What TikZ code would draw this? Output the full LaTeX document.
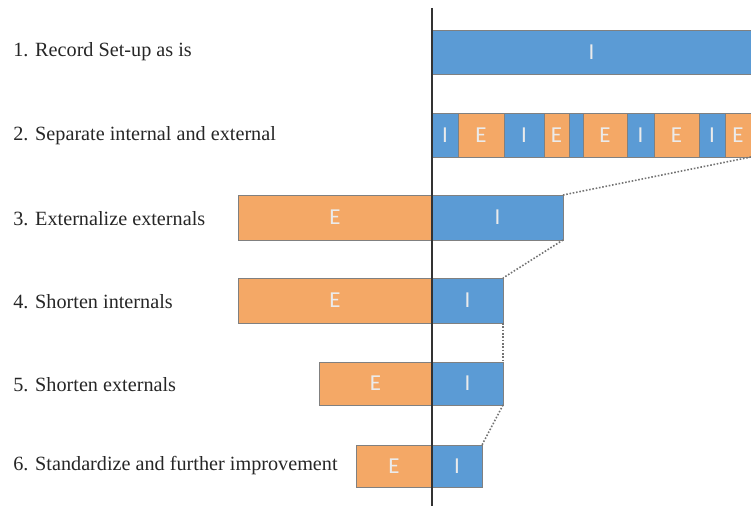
\documentclass[tikz,border=0pt]{standalone}
\usepackage{fontspec}
\setmainfont{Liberation Serif}
\newfontfamily\barfont{Carlito}
\usetikzlibrary{positioning}
\definecolor{iblue}{HTML}{5B9BD5}
\definecolor{eorange}{HTML}{F4A866}
\tikzset{
  seg/.style={rectangle,draw=black!50,line width=.5pt,inner sep=0pt,
    outer sep=0pt,anchor=north west,minimum height=.88cm,
    font=\barfont\fontsize{13}{15}\selectfont,text=white!92!black},
  iseg/.style={seg,fill=iblue},
  eseg/.style={seg,fill=eorange},
  wd/.style={minimum width=#1*0.02cm},
  steplabel/.style={anchor=west,inner sep=0pt,
    font=\fontsize{11.5}{13}\selectfont,text=black!85},
  link/.style={densely dotted,line width=.9pt,draw=black!55}}

\begin{document}
\begin{tikzpicture}[x=0.02cm,y=-0.02cm]
  \useasboundingbox (0,0) rectangle (751,506);

  % step names
  \node[steplabel] (l1) at (13,52) {1. Record Set-up as is};
  \node[steplabel] (l2) at (13,136) {2. Separate internal and external};
  \node[steplabel] (l3) at (13,219) {3. Externalize externals};
  \node[steplabel] (l4) at (13,302) {4. Shorten internals};
  \node[steplabel] (l5) at (13,385) {5. Shorten externals};
  \node[steplabel] (l6) at (13,466) {6. Standardize and further improvement};

  % row 1
  \node[iseg,wd=319] (r1i) at (432,30) {I};

  % row 2
  \node[iseg,wd=26] (r2a) at (432,113) {I};
  \node[eseg,wd=46,right=0pt of r2a] (r2b) {E};
  \node[iseg,wd=40,right=0pt of r2b] (r2c) {I};
  \node[eseg,wd=25,right=0pt of r2c] (r2d) {E};
  \node[iseg,wd=14,right=0pt of r2d] (r2e) {};
  \node[eseg,wd=44,right=0pt of r2e] (r2f) {E};
  \node[iseg,wd=27,right=0pt of r2f] (r2g) {I};
  \node[eseg,wd=45,right=0pt of r2g] (r2h) {E};
  \node[iseg,wd=26,right=0pt of r2h] (r2j) {I};
  \node[eseg,wd=26,right=0pt of r2j] (r2k) {E};

  % rows 3 to 6
  \node[iseg,wd=131,minimum height=.9cm] (r3i) at (432,195) {I};
  \node[eseg,wd=194,minimum height=.9cm,left=0pt of r3i] (r3e) {E};
  \node[iseg,wd=71,minimum height=.9cm] (r4i) at (432,278) {I};
  \node[eseg,wd=194,minimum height=.9cm,left=0pt of r4i] (r4e) {E};
  \node[iseg,wd=71,minimum height=.86cm] (r5i) at (432,362) {I};
  \node[eseg,wd=113,minimum height=.86cm,left=0pt of r5i] (r5e) {E};
  \node[iseg,wd=50,minimum height=.84cm] (r6i) at (432,445) {I};
  \node[eseg,wd=76,minimum height=.84cm,left=0pt of r6i] (r6e) {E};

  % axis and dotted links
  \coordinate (axtop) at (432,8);
  \coordinate (axbot) at (432,506);
  \draw[line width=.8pt,black!80] (axtop) -- (axbot);
  \draw[link] (r2k.south east) -- (r3i.north east);
  \draw[link] (r3i.south east) -- (r4i.north east);
  \draw[link] (r4i.south east) -- (r5i.north east);
  \draw[link] (r5i.south east) -- (r6i.north east);
\end{tikzpicture}
\end{document}
